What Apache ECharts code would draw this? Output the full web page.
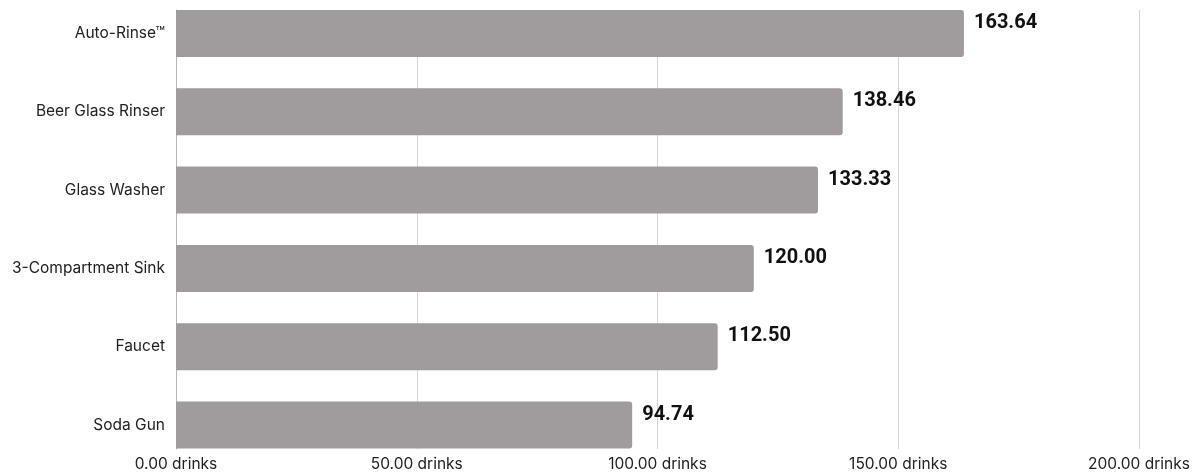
<!DOCTYPE html>
<html>
<head>
<meta charset="utf-8">
<script src="https://cdn.jsdelivr.net/npm/echarts@6/dist/echarts.min.js"></script>
<style>
  html, body { margin: 0; padding: 0; background: #fff; }
  #chart { width: 1194px; height: 472px; }
</style>
</head>
<body>
<div id="chart"></div>
<script>
// Drinks served per unit of water, by rinsing method
const categories = ['Auto-Rinse™', 'Beer Glass Rinser', 'Glass Washer', '3-Compartment Sink', 'Faucet', 'Soda Gun'];
const drinks = [163.64, 138.46, 133.33, 120.00, 112.50, 94.74];
const xMin = 0;
const xMax = 200;
const xStep = 50;

const chart = echarts.init(document.getElementById('chart'), null, { renderer: 'canvas' });

const labelFont = 'Inter, "Noto Sans", sans-serif';

chart.setOption({
  animation: false,
  backgroundColor: '#ffffff',
  grid: [
    // bars and category names: grid edges run through the first and last bar centres
    { left: 176, right: 55, top: 33.5, bottom: 47, containLabel: false },
    // value scale, grid lines and the left axis line
    { left: 176, right: 55, top: 10, bottom: 23, containLabel: false }
  ],
  xAxis: [
    {
      gridIndex: 0, type: 'value', min: xMin, max: xMax, interval: xStep,
      show: false
    },
    {
      gridIndex: 1, type: 'value', min: xMin, max: xMax, interval: xStep,
      axisLine: { show: false },
      axisTick: { show: false },
      splitLine: { show: true, lineStyle: { color: '#d4d4d4', width: 1 } },
      axisLabel: {
        margin: 7,
        color: '#222222',
        fontFamily: labelFont,
        fontSize: 15.5,
        formatter: v => v.toFixed(2) + ' drinks'
      }
    }
  ],
  yAxis: [
    {
      gridIndex: 0, type: 'category', data: categories, inverse: true,
      boundaryGap: false,
      axisLine: { show: false },
      axisTick: { show: false },
      splitLine: { show: false },
      axisLabel: {
        margin: 11,
        color: '#222222',
        fontFamily: labelFont,
        fontSize: 15.5
      }
    },
    {
      gridIndex: 1, type: 'category', data: categories, inverse: true,
      axisLine: { show: true, lineStyle: { color: '#b5b5b5', width: 1 } },
      axisTick: { show: false },
      axisLabel: { show: false },
      splitLine: { show: false }
    }
  ],
  series: [
    {
      type: 'bar',
      xAxisIndex: 0,
      yAxisIndex: 0,
      data: drinks,
      barWidth: 47,
      clip: false,
      itemStyle: { color: '#a09b9c', borderRadius: [0, 3, 3, 0] },
      label: {
        show: true,
        position: 'right',
        distance: 10,
        offset: [0, -10.5],
        color: '#111111',
        fontFamily: 'Roboto, sans-serif',
        fontWeight: 'bold',
        fontSize: 20,
        formatter: p => p.value.toFixed(2)
      }
    }
  ]
});
</script>
</body>
</html>
